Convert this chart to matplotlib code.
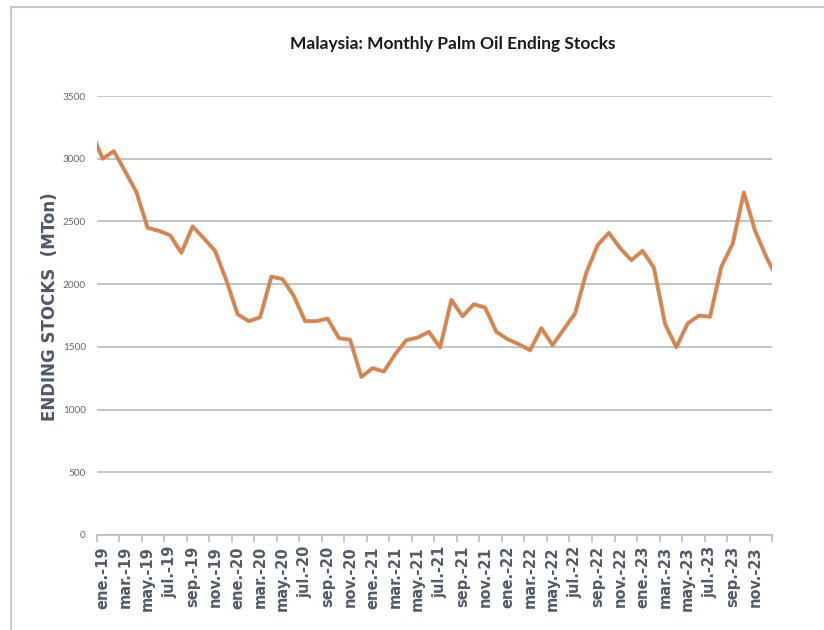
import matplotlib
matplotlib.use("Agg")
import matplotlib.pyplot as plt
from matplotlib.lines import Line2D

# meses abreviados (español) y años del eje
months = ['ene.', 'feb.', 'mar.', 'abr.', 'may.', 'jun.',
          'jul.', 'ago.', 'sep.', 'oct.', 'nov.', 'dic.']
years = ['19', '20', '21', '22', '23']

# existencias finales mensuales (miles de t)
stocks_2019 = [3000, 3060, 2900, 2735, 2450, 2425, 2390, 2250, 2460, 2365, 2265, 2030]
stocks_2020 = [1760, 1705, 1735, 2060, 2040, 1905, 1705, 1705, 1725, 1570, 1556, 1261]
stocks_2021 = [1330, 1303, 1441, 1553, 1574, 1620, 1495, 1874, 1744, 1840, 1813, 1620]
stocks_2022 = [1561, 1521, 1473, 1649, 1514, 1641, 1767, 2093, 2311, 2409, 2287, 2191]
stocks_2023 = [2265, 2132, 1681, 1497, 1686, 1749, 1741, 2140, 2321, 2730, 2424, 2215]
# puntos vecinos que quedan recortados en los bordes del eje
stock_dec_2018 = 3215
stock_jan_2024 = 2040

yticks = [0, 500, 1000, 1500, 2000, 2500, 3000, 3500]


def build_series():
    values = [stock_dec_2018]
    for s in (stocks_2019, stocks_2020, stocks_2021, stocks_2022, stocks_2023):
        values += s
    values.append(stock_jan_2024)
    xs = list(range(-1, len(values) - 1))
    labels = [f"{m}-{y}" for y in years for m in months]
    return xs, values, labels


def main():
    xs, values, labels = build_series()
    n = len(labels)

    fig = plt.figure(figsize=(8.24, 6.30), dpi=100)
    ax = fig.add_axes([0.1177, 0.1508, 0.8192, 0.6968])

    # gris debajo + naranja encima (como el original)
    ax.plot(xs, values, color='#a6a6a6', lw=3.0, solid_joinstyle='round', zorder=3)
    ax.plot(xs, values, color='#ed7d31', lw=1.8, solid_joinstyle='round', zorder=4)

    ax.set_xlim(-0.5, n - 0.5)
    ax.set_ylim(0, 3500)

    # rejilla horizontal
    ax.set_yticks(yticks)
    ax.yaxis.grid(True, color='#bfbfbf', lw=1.3)
    ax.set_axisbelow(True)
    for sp in ['top', 'right', 'left']:
        ax.spines[sp].set_visible(False)
    ax.spines['bottom'].set_color('#bfbfbf')
    ax.spines['bottom'].set_linewidth(1.3)
    ax.tick_params(axis='y', length=0, pad=8, labelsize=7.2, labelcolor='#666666')
    for t in ax.get_yticklabels():
        t.set_family(['Lato', 'DejaVu Sans'])

    # etiquetas cada 2 meses, marcas en los límites de categoría
    ax.set_xticks(range(0, n, 2))
    ax.set_xticklabels(labels[::2], rotation=90, fontsize=10.5, fontweight='bold',
                       color='#505b6b')
    ax.tick_params(axis='x', length=0, pad=8)
    ax.set_xticks([i - 0.5 for i in range(0, n + 1, 2)], minor=True)
    ax.tick_params(axis='x', which='minor', length=5, color='#bfbfbf', width=1.2)

    ax.set_ylabel("ENDING STOCKS  (MTon)", fontsize=12, fontweight='bold',
                  color='#4d5869')
    ax.yaxis.set_label_coords(-0.056, 0.52)

    fig.text(0.549, 0.93, "Malaysia: Monthly Palm Oil Ending Stocks",
             ha='center', va='center', fontsize=12.5, fontweight='bold',
             family=['Lato', 'DejaVu Sans'], color='#1a1a1a')

    # marco exterior
    fig.add_artist(Line2D([0.0133, 1.0], [0.989, 0.989], color='#c8c8c8', lw=1.5,
                          transform=fig.transFigure))
    fig.add_artist(Line2D([0.0133, 0.0133], [0.0, 0.989], color='#c8c8c8', lw=1.5,
                          transform=fig.transFigure))

    fig.savefig("out.png", dpi=100, facecolor='white')


if __name__ == "__main__":
    main()
